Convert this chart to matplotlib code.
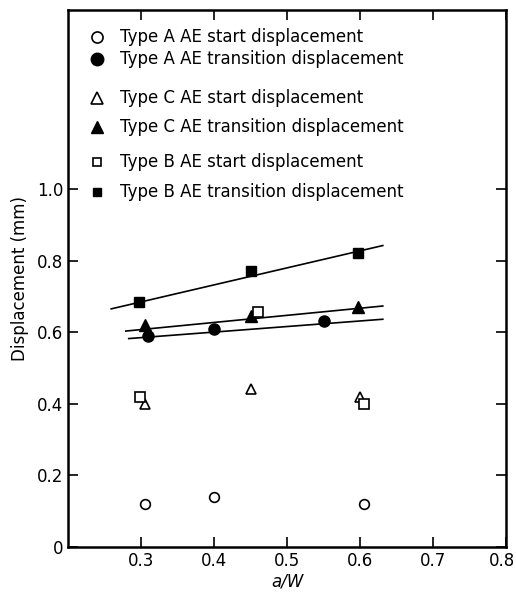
import matplotlib
matplotlib.use('Agg')
import matplotlib.pyplot as plt
import matplotlib.transforms as mtransforms

# data
a_start_x = [0.305, 0.40, 0.605]
a_start_y = [0.12, 0.14, 0.12]
a_trans_x = [0.31, 0.40, 0.55]
a_trans_y = [0.59, 0.61, 0.63]
c_start_x = [0.305, 0.45, 0.60]
c_start_y = [0.40, 0.44, 0.42]
c_trans_x = [0.305, 0.45, 0.597]
c_trans_y = [0.62, 0.645, 0.67]
b_start_x = [0.298, 0.46, 0.605]
b_start_y = [0.42, 0.655, 0.40]
b_trans_x = [0.297, 0.45, 0.597]
b_trans_y = [0.685, 0.77, 0.82]

# fitted lines (end points)
b_line_x = [0.259, 0.631]
b_line_y = [0.665, 0.842]
c_line_x = [0.279, 0.631]
c_line_y = [0.603, 0.673]
a_line_x = [0.283, 0.631]
a_line_y = [0.582, 0.636]

labels = ['Type A AE start displacement',
          'Type A AE transition displacement',
          'Type C AE start displacement',
          'Type C AE transition displacement',
          'Type B AE start displacement',
          'Type B AE transition displacement']

fig = plt.figure(figsize=(5.16, 5.95), dpi=100)
ax = fig.add_axes([0.132, 0.081, 0.849, 0.902])

ax.plot(b_line_x, b_line_y, color='black', lw=1.2)
ax.plot(c_line_x, c_line_y, color='black', lw=1.2)
ax.plot(a_line_x, a_line_y, color='black', lw=1.2)

open_kw = dict(mfc='white', mec='black', mew=1.2, ls='none')
fill_kw = dict(color='black', ls='none')
ax.plot(a_start_x, a_start_y, 'o', ms=7, **open_kw)
ax.plot(a_trans_x, a_trans_y, 'o', ms=8, **fill_kw)
ax.plot(c_start_x, c_start_y, '^', ms=7, **open_kw)
ax.plot(c_trans_x, c_trans_y, '^', ms=8, **fill_kw)
ax.plot(b_start_x, b_start_y, 's', ms=7, **open_kw)
ax.plot(b_trans_x, b_trans_y, 's', ms=7, **fill_kw)

# key, drawn by hand because the rows are unevenly spaced
key_rows = [0.949, 0.909, 0.837, 0.782, 0.717, 0.662]
key_styles = [('o', open_kw, 8), ('o', fill_kw, 9), ('^', open_kw, 8),
              ('^', fill_kw, 9), ('s', open_kw, 5.5), ('s', fill_kw, 6)]
for yk, (m, kw, ms), lab in zip(key_rows, key_styles, labels):
    ax.plot([0.066], [yk], m, ms=ms, transform=ax.transAxes, clip_on=False, **kw)
    ax.text(0.119, yk, lab, transform=ax.transAxes, fontsize=12,
            va='center', ha='left')

ax.set_xlim(0.2, 0.8)
ax.set_ylim(0, 1.5)
ax.set_xticks([0.3, 0.4, 0.5, 0.6, 0.7, 0.8])
ax.set_xticklabels(['0.3', '0.4', '0.5', '0.6', '0.7', '0.8'])
ax.set_yticks([0, 0.2, 0.4, 0.6, 0.8, 1.0])
ax.set_yticklabels(['0', '0.2', '0.4', '0.6', '0.8', '1.0'])
ax.tick_params(direction='in', length=7, width=1.2, labelsize=12,
               top=True, right=True)
for s in ax.spines.values():
    s.set_linewidth(1.8)

# nudge the last x label so it stays inside the figure
last = ax.get_xticklabels()[-1]
last.set_transform(last.get_transform() +
                   mtransforms.ScaledTranslation(-4 / 100, 0, fig.dpi_scale_trans))

ax.set_xlabel('a/W', fontsize=12, style='italic', labelpad=2)
ax.set_ylabel('Displacement (mm)', fontsize=12, labelpad=6)

fig.savefig('out.png', dpi=100)
